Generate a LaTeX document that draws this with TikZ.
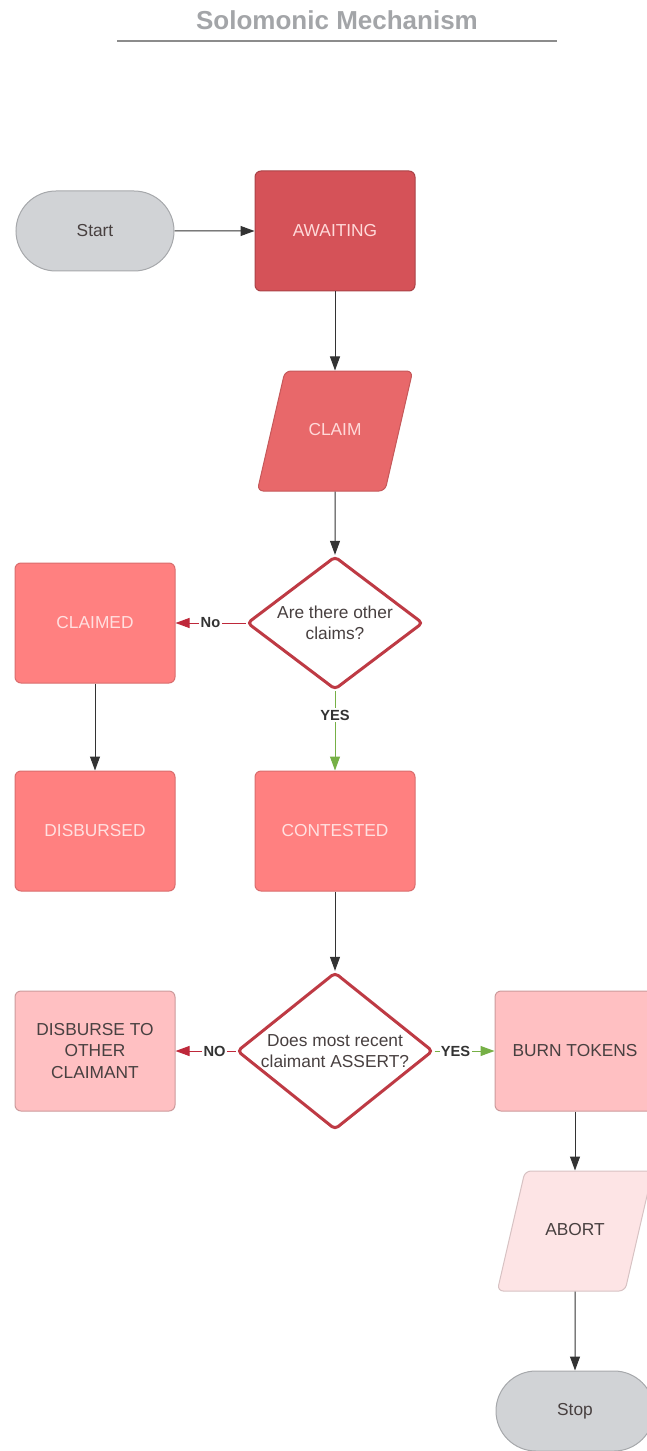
\documentclass[tikz,border=0pt]{standalone}
\usepackage{fontspec}
\setmainfont{Liberation Sans}
\usetikzlibrary{shapes.geometric,shapes.misc,arrows.meta}

\definecolor{termfill}{RGB}{209,211,214}
\definecolor{termline}{RGB}{166,168,171}
\definecolor{awaitfill}{RGB}{213,82,88}
\definecolor{claimfill}{RGB}{232,104,106}
\definecolor{statefill}{RGB}{255,128,128}
\definecolor{pinkfill}{RGB}{255,192,194}
\definecolor{palefill}{RGB}{253,228,229}
\definecolor{diaedge}{RGB}{190,58,68}
\definecolor{noline}{RGB}{190,40,58}
\definecolor{yesline}{RGB}{118,176,70}
\definecolor{titlegray}{RGB}{163,165,168}
\definecolor{darktext}{RGB}{72,64,64}

\tikzset{every picture/.style={line width=0.75pt}}

\begin{document}
\begin{tikzpicture}[x=0.75pt,y=0.75pt,yscale=-1,xscale=1,
    base/.style={inner sep=0.75pt, align=center, font=\fontsize{13}{16}\selectfont},
    term/.style={base, rounded rectangle, minimum width=120pt, minimum height=60pt, draw=termline, fill=termfill, text=darktext},
    box/.style={base, rectangle, rounded corners=4.5pt, minimum width=120pt, minimum height=90pt},
    para/.style={base, trapezium, trapezium left angle=77, trapezium right angle=103, rounded corners=4.5pt, text width=75pt, inner xsep=0pt, text height=9pt, text depth=3pt, inner ysep=39pt},
    decide/.style={base, diamond, draw=diaedge, line width=2.25pt, fill=white, rounded corners=3pt, text=darktext, inner sep=-1.5pt},
    flow/.style={draw=black!80, -{Triangle[length=10.5pt,width=7.5pt]}},
    noflow/.style={draw=noline, -{Triangle[length=10.5pt,width=7.5pt]}},
    yesflow/.style={draw=yesline, -{Triangle[length=10.5pt,width=7.5pt]}},
    lbl/.style={font=\bfseries\fontsize{11}{13}\selectfont, text=black!80, fill=white, inner sep=1pt}]

    \useasboundingbox (0,0) rectangle (646,1451);

    % title
    \node (title) at (337,20) [font=\bfseries\fontsize{19.5}{22}\selectfont, text=titlegray] {Solomonic Mechanism};
    \draw [color=black!45, line width=1.5pt] (117,41) -- (557,41);

    % start and first states
    \node (start) at (95,231) [term] {Start};
    \node (awaiting) at (335,231) [box, draw=awaitfill!80!black, fill=awaitfill, text=white!85!red] {AWAITING};
    \node (claim) at (335,431) [para, draw=claimfill!85!black, fill=claimfill, text=white!85!red] {CLAIM};

    % first decision
    \node (others) at (335,623) [decide, shape aspect=1.32, minimum width=132pt, minimum height=100pt] {Are there other\\claims?};
    \node (claimed) at (95,623) [box, draw=statefill!85!black, fill=statefill, text=white!88!red] {CLAIMED};
    \node (disbursed) at (95,831) [box, draw=statefill!85!black, fill=statefill, text=white!88!red] {DISBURSED};
    \node (contested) at (335,831) [box, draw=statefill!85!black, fill=statefill, text=white!88!red] {CONTESTED};

    % second decision
    \node (assert) at (335,1051) [decide, shape aspect=1.25, minimum width=147pt, minimum height=118pt] {Does most recent\\claimant ASSERT?};
    \node (other) at (95,1051) [box, draw=pinkfill!80!black, fill=pinkfill, text=darktext] {DISBURSE TO\\OTHER\\CLAIMANT};
    \node (burn) at (575,1051) [box, draw=pinkfill!80!black, fill=pinkfill, text=darktext] {BURN TOKENS};
    \node (abort) at (575,1231) [para, draw=palefill!85!black, fill=palefill, text=darktext] {ABORT};
    \node (stop) at (575,1411) [term] {Stop};

    % connectors
    \draw [flow] (start) -- (awaiting);
    \draw [flow] (awaiting) -- (claim);
    \draw [flow] (claim) -- (others);
    \draw [noflow] (others) -- node [lbl, pos=0.5] {No} (claimed);
    \draw [yesflow] (others) -- node [lbl, pos=0.3] {YES} (contested);
    \draw [flow] (claimed) -- (disbursed);
    \draw [flow] (contested) -- (assert);
    \draw [noflow] (assert) -- node [lbl, pos=0.35] {NO} (other);
    \draw [yesflow] (assert) -- node [lbl, pos=0.35] {YES} (burn);
    \draw [flow] (burn) -- (abort);
    \draw [flow] (abort) -- (stop);
\end{tikzpicture}
\end{document}
